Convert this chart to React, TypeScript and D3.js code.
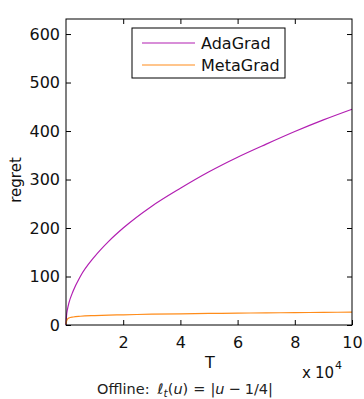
import React, { useEffect, useRef } from 'react';
import * as d3 from 'd3';

// T in units of 10^4
const tValues = [0, 0.02, 0.05, 0.1, 0.25, 0.5, 1, 1.5, 2, 3, 4, 5, 6, 7, 8, 9, 10];
const adaGrad = [0, 20, 32, 45, 70, 100, 141, 173, 200, 245, 282, 316, 346, 373, 399, 423, 445];
const metaGrad = [2, 8, 12, 14.5, 16.5, 18, 19.5, 20.5, 21, 22.3, 23, 23.8, 24.5, 25, 25.5, 26, 26.5];
const xTicks = [2, 4, 6, 8, 10];
const yTicks = [0, 100, 200, 300, 400, 500, 600];
const seriesNames = ['AdaGrad', 'MetaGrad'];
const seriesColors = ['#b21fb2', '#ff8c1a'];

const App = () => {
  const svgRef = useRef<SVGSVGElement>(null);

  useEffect(() => {
    const width = 364;
    const height = 399;
    const margin = { left: 66, right: 12, top: 19, bottom: 74 };
    const iw = width - margin.left - margin.right;
    const ih = height - margin.top - margin.bottom;

    const svg = d3.select(svgRef.current).attr('width', width).attr('height', height);
    svg.selectAll('*').remove();

    const font = 'DejaVu Sans, Verdana, sans-serif';

    const x = d3.scaleLinear().domain([0, 10]).range([0, iw]);
    const y = d3.scaleLinear().domain([0, 631]).range([ih, 0]);

    const g = svg.append('g').attr('transform', `translate(${margin.left},${margin.top})`);

    // lines
    const series = [adaGrad, metaGrad];
    const line = d3
      .line<number>()
      .x((d, i) => x(tValues[i]))
      .y((d) => y(d))
      .curve(d3.curveMonotoneX);

    series.forEach((s, k) => {
      g.append('path')
        .attr('d', line(s))
        .attr('fill', 'none')
        .attr('stroke', seriesColors[k])
        .attr('stroke-width', 1.2);
    });

    // frame
    g.append('rect')
      .attr('width', iw)
      .attr('height', ih)
      .attr('fill', 'none')
      .attr('stroke', '#000')
      .attr('stroke-width', 1);

    // axes with inward ticks
    const tick = 5;
    const styleAxis = (sel: any) => {
      sel.select('.domain').remove();
      sel.selectAll('line').attr('stroke', '#000');
      sel.selectAll('text').attr('font-family', font).attr('font-size', 16).attr('fill', '#111');
    };

    g.append('g')
      .attr('transform', `translate(0,${ih})`)
      .call(d3.axisBottom(x).tickValues(xTicks).tickSizeInner(-tick).tickPadding(12).tickFormat(d3.format('d')))
      .call(styleAxis);
    g.append('g')
      .call(d3.axisTop(x).tickValues(xTicks.slice(0, 4)).tickSizeInner(-tick).tickFormat(() => ''))
      .call(styleAxis);
    g.append('g')
      .call(d3.axisLeft(y).tickValues(yTicks).tickSizeInner(-tick).tickPadding(6).tickFormat(d3.format('d')))
      .call(styleAxis);
    g.append('g')
      .attr('transform', `translate(${iw},0)`)
      .call(d3.axisRight(y).tickValues(yTicks).tickSizeInner(-tick).tickFormat(() => ''))
      .call(styleAxis);

    // axis labels
    svg.append('text')
      .attr('x', 210)
      .attr('y', 368)
      .attr('text-anchor', 'middle')
      .attr('font-family', font)
      .attr('font-size', 16)
      .attr('fill', '#111')
      .text('T');

    const mult = svg.append('text')
      .attr('x', 302)
      .attr('y', 378)
      .attr('font-family', font)
      .attr('font-size', 15)
      .attr('fill', '#111');
    mult.append('tspan').text('x');
    mult.append('tspan').attr('dx', 4).text('10');
    mult.append('tspan').attr('font-size', 11).attr('dx', 1).attr('dy', -9).text('4');

    svg.append('text')
      .attr('transform', 'translate(21,180) rotate(-90)')
      .attr('text-anchor', 'middle')
      .attr('font-family', font)
      .attr('font-size', 15)
      .attr('fill', '#111')
      .text('regret');

    // caption
    const cap = svg.append('text')
      .attr('x', 185)
      .attr('y', 394)
      .attr('text-anchor', 'middle')
      .attr('font-family', font)
      .attr('font-size', 14.5)
      .attr('fill', '#222');
    cap.append('tspan').text('Offline:');
    cap.append('tspan').attr('dx', 8).attr('font-style', 'italic').text('ℓ');
    cap.append('tspan').attr('font-style', 'italic').attr('font-size', 10.5).attr('dy', 3).text('t');
    cap.append('tspan').attr('dy', -3).text('(');
    cap.append('tspan').attr('font-style', 'italic').text('u');
    cap.append('tspan').text(')');
    cap.append('tspan').attr('dx', 5).text('=');
    cap.append('tspan').attr('dx', 5).text('|');
    cap.append('tspan').attr('font-style', 'italic').text('u');
    cap.append('tspan').attr('dx', 4).text('−');
    cap.append('tspan').attr('dx', 4).text('1/4|');

    // legend
    const lg = svg.append('g').attr('transform', 'translate(132,28)');
    lg.append('rect')
      .attr('width', 153)
      .attr('height', 50)
      .attr('fill', '#fff')
      .attr('stroke', '#000')
      .attr('stroke-width', 1);
    seriesNames.forEach((name, k) => {
      const yy = 15 + k * 22;
      lg.append('line')
        .attr('x1', 10)
        .attr('x2', 63)
        .attr('y1', yy)
        .attr('y2', yy)
        .attr('stroke', seriesColors[k])
        .attr('stroke-width', 1.2);
      lg.append('text')
        .attr('x', 69)
        .attr('y', yy + 6)
        .attr('font-family', font)
        .attr('font-size', 16)
        .attr('fill', '#111')
        .text(name);
    });
  }, []);

  return (
    <div style={{ position: 'absolute', left: 0, top: 0 }}>
      <svg ref={svgRef}></svg>
    </div>
  );
};

export default App;
